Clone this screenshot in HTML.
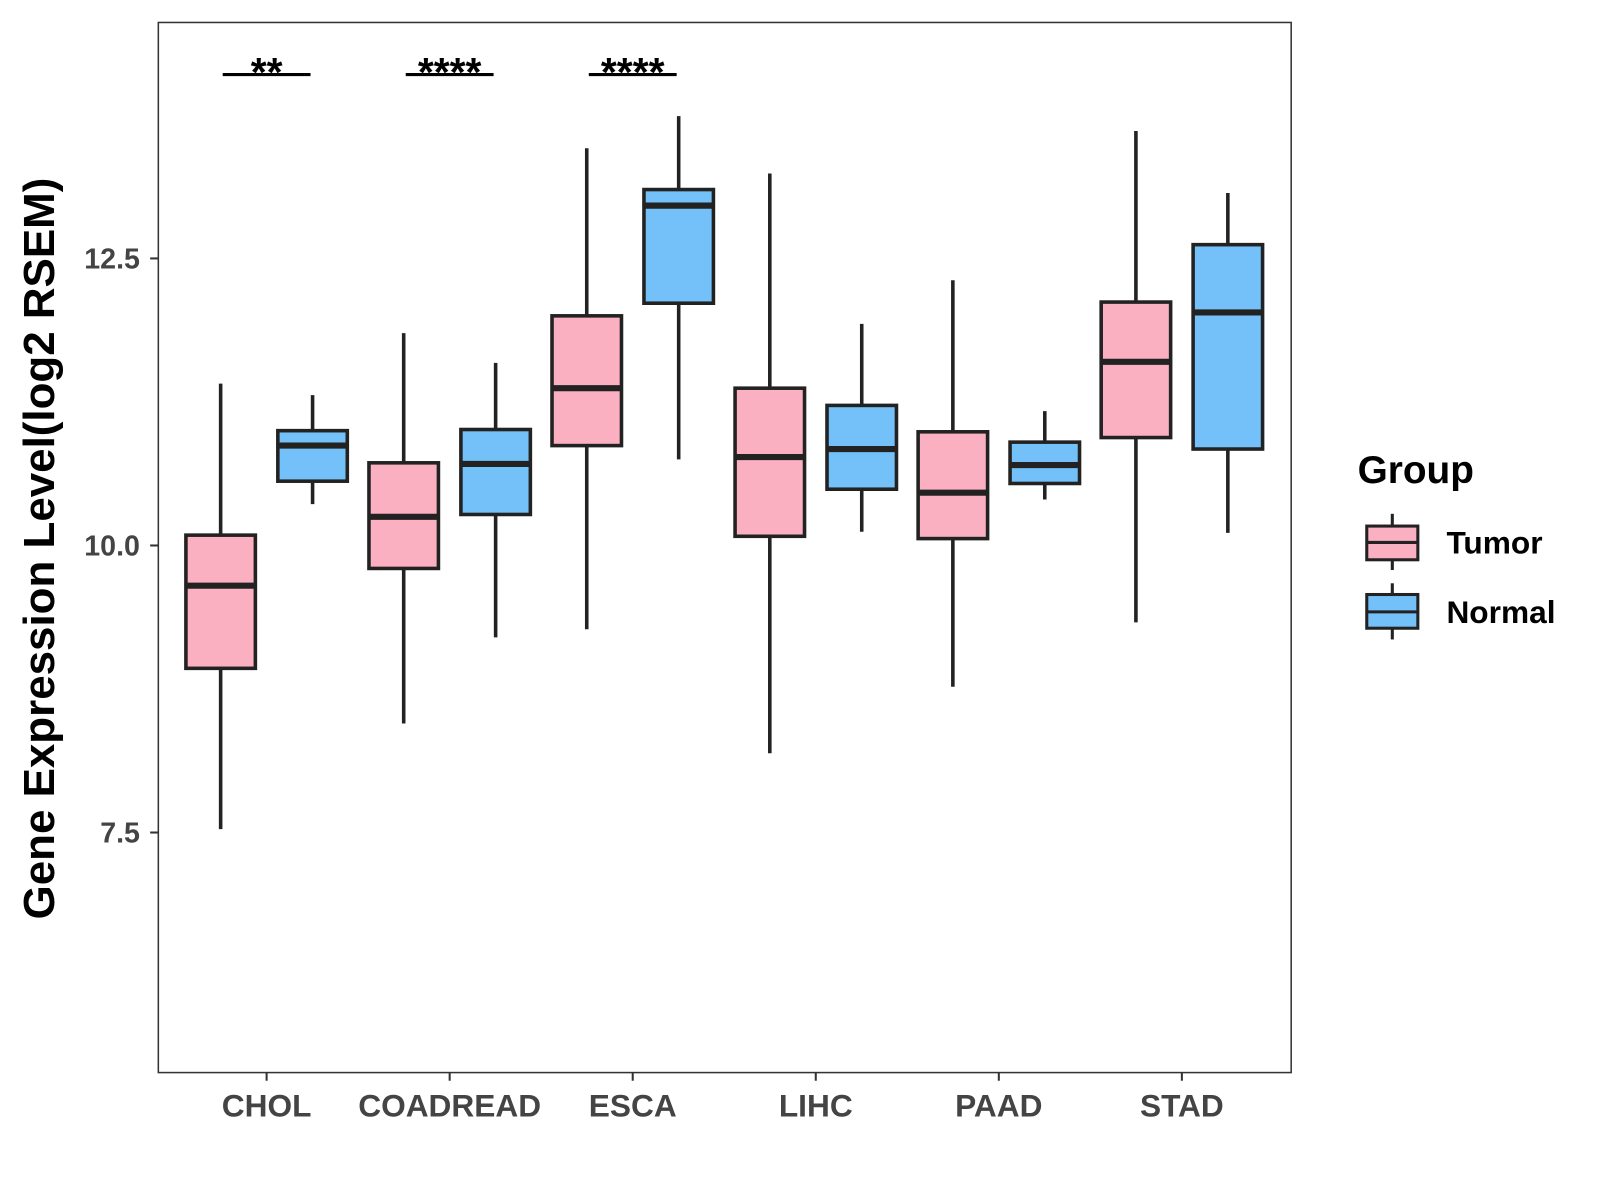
<!DOCTYPE html>
<html><head><meta charset="utf-8"><style>
body{margin:0;background:#fff}
svg{display:block;font-family:"Liberation Sans",sans-serif}
</style></head><body>
<svg id="chart" width="1600" height="1200" viewBox="0 0 1600 1200" xmlns="http://www.w3.org/2000/svg">
<g transform="scale(1.0215)">
<rect x="155" y="22" width="1109" height="1028" fill="#fff" stroke="#333" stroke-width="1.5"/>
<g id="yaxis"></g>
<g id="xaxis"></g>
<g id="boxes"></g>
<g id="sig"></g>
<text transform="translate(53,537) rotate(-90)" text-anchor="middle" font-size="43" font-weight="bold" fill="#000">Gene Expression Level(log2 RSEM)</text>
<g>
<text x="1329" y="473" font-size="38" font-weight="bold">Group</text>
<g>
<line x1="1363" y1="503" x2="1363" y2="558" stroke="#222" stroke-width="3"/>
<rect x="1338" y="515" width="50" height="33" fill="#FBB0C1" stroke="#222" stroke-width="3"/>
<line x1="1338" y1="531" x2="1388" y2="531" stroke="#222" stroke-width="3"/>
<text x="1416" y="542" font-size="31" font-weight="bold">Tumor</text></g>
<g>
<line x1="1363" y1="571" x2="1363" y2="626" stroke="#222" stroke-width="3"/>
<rect x="1338" y="582" width="50" height="33" fill="#74C0F8" stroke="#222" stroke-width="3"/>
<line x1="1338" y1="599" x2="1388" y2="599" stroke="#222" stroke-width="3"/>
<text x="1416" y="610" font-size="31" font-weight="bold">Normal</text></g>
</g>
</g>
</svg>
<script>
const categories=["CHOL","COADREAD","ESCA","LIHC","PAAD","STAD"];
// [low, q1, median, q3, high]
const tumor=[[7.53,8.93,9.65,10.09,11.41],[8.45,9.80,10.25,10.72,11.85],[9.27,10.87,11.37,12.0,13.46],[8.19,10.08,10.77,11.37,13.24],[8.77,10.06,10.46,10.99,12.31],[9.33,10.94,11.60,12.12,13.61]];
const normal=[[10.36,10.56,10.87,11.0,11.31],[9.20,10.27,10.71,11.01,11.59],[10.75,12.11,12.96,13.10,13.74],[10.12,10.49,10.84,11.22,11.93],[10.40,10.54,10.70,10.90,11.17],[10.11,10.84,12.03,12.62,13.07]];
const yTicks=[7.5,10.0,12.5];
const yTickLabels=["7.5","10.0","12.5"];
const sigLabels=["**","****","****",null,null,null];
const NS="http://www.w3.org/2000/svg";
const y=v=>534-(v-10)*112.4;
const x=i=>261+i*179.2;
function mk(tag,attrs,parent){const e=document.createElementNS(NS,tag);for(const k in attrs)e.setAttribute(k,attrs[k]);parent.appendChild(e);return e;}
const ya=document.getElementById('yaxis'),xa=document.getElementById('xaxis'),bx=document.getElementById('boxes'),sg=document.getElementById('sig');
const svgG=document.querySelector('#chart > g');
yTicks.forEach((t,i)=>{
 const l=mk('line',{x1:147,x2:155,y1:y(t),y2:y(t),stroke:'#333','stroke-width':2},ya);
 
 
 const tx=mk('text',{x:137,y:y(t)+10,'text-anchor':'end','font-size':28,'font-weight':'bold',fill:'#444'},ya);
 tx.textContent=yTickLabels[i];
 
 
});
categories.forEach((c,i)=>{
 const l=mk('line',{x1:x(i),x2:x(i),y1:1050,y2:1058,stroke:'#333','stroke-width':2},xa);
 
 
 const tx=mk('text',{x:x(i),y:1093,'text-anchor':'middle','font-size':31,'font-weight':'bold',fill:'#444'},xa);
 tx.textContent=c;
 
 
});
function box(cx,d,fill,name){
 const g=mk('g',{},bx);
 
 
 mk('line',{x1:cx,x2:cx,y1:y(d[4]),y2:y(d[0]),stroke:'#222','stroke-width':3.5},g);
 mk('rect',{x:cx-34,y:y(d[3]),width:68,height:y(d[1])-y(d[3]),fill:fill,stroke:'#222','stroke-width':3.5},g);
 mk('line',{x1:cx-34,x2:cx+34,y1:y(d[2]),y2:y(d[2]),stroke:'#222','stroke-width':6},g);
}
categories.forEach((c,i)=>{
 box(x(i)-45,tumor[i],'#FBB0C1','box-'+c.toLowerCase()+'-tumor');
 box(x(i)+45,normal[i],'#74C0F8','box-'+c.toLowerCase()+'-normal');
 if(sigLabels[i]){
  const l=mk('line',{x1:x(i)-43,x2:x(i)+43,y1:73,y2:73,stroke:'#000','stroke-width':3},sg);
  
  
  const t=mk('text',{x:x(i),y:84,'text-anchor':'middle','font-size':40,'font-weight':'bold'},sg);
  t.textContent=sigLabels[i];
  
  
 }
});
</script>
</body></html>
